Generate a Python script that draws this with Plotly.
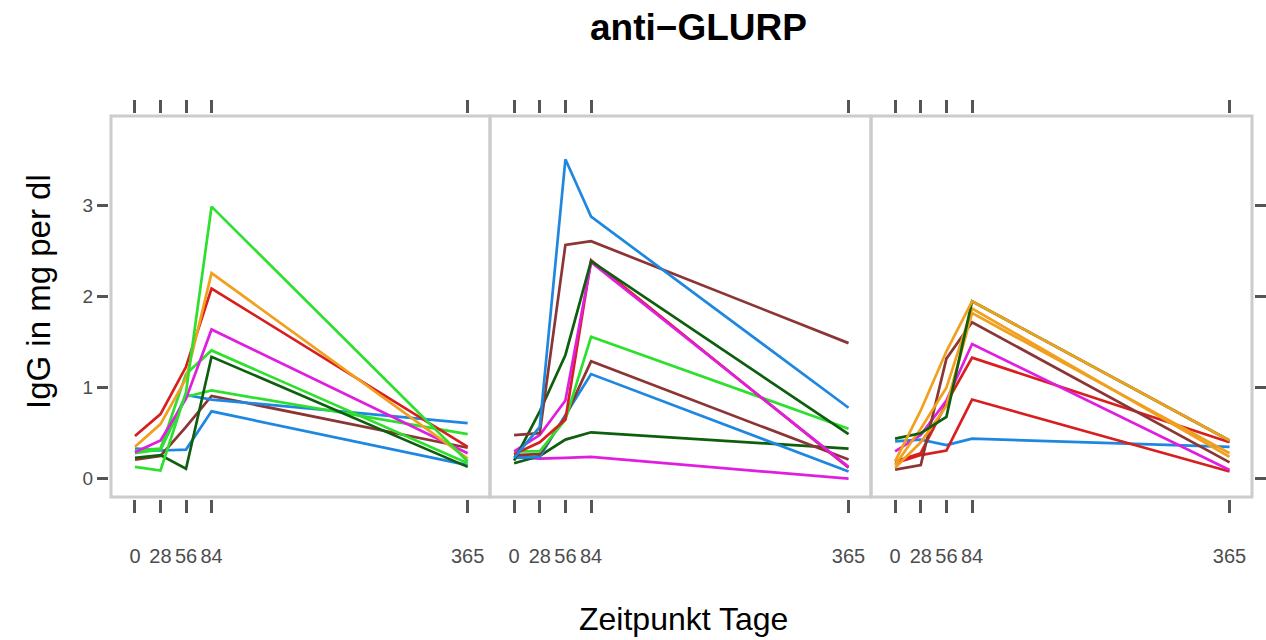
import plotly.graph_objects as go

days = [0, 28, 56, 84, 365]
tick_labels = ["0", "28", "56", "84", "365"]
y_ticks = [0, 1, 2, 3]

# panel 1 series (IgG at days 0, 28, 56, 84, 365)
p1_green_a = [0.13, 0.09, 0.95, 2.99, 0.19]
p1_orange = [0.35, 0.60, 1.10, 2.26, 0.22]
p1_red = [0.47, 0.71, 1.23, 2.09, 0.35]
p1_magenta = [0.29, 0.42, 0.88, 1.64, 0.28]
p1_green_b = [0.31, 0.33, 1.15, 1.41, 0.17]
p1_darkgreen = [0.23, 0.26, 0.11, 1.34, 0.13]
p1_green_c = [0.28, 0.32, 0.90, 0.97, 0.49]
p1_blue_a = [0.33, 0.32, 0.92, 0.87, 0.61]
p1_brown = [0.21, 0.25, 0.57, 0.91, 0.34]
p1_blue_b = [0.31, 0.31, 0.32, 0.74, 0.15]

# panel 2 series
p2_blue_a = [0.23, 0.57, 3.51, 2.88, 0.78]
p2_brown_a = [0.48, 0.50, 2.57, 2.61, 1.49]
p2_darkgreen_a = [0.20, 0.74, 1.36, 2.39, 0.49]
p2_red = [0.27, 0.40, 0.65, 2.40, 0.12]
p2_magenta_a = [0.30, 0.48, 0.86, 2.38, 0.13]
p2_green = [0.30, 0.30, 0.65, 1.56, 0.55]
p2_brown_b = [0.26, 0.27, 0.68, 1.29, 0.21]
p2_blue_b = [0.23, 0.24, 0.70, 1.15, 0.08]
p2_darkgreen_b = [0.17, 0.25, 0.43, 0.51, 0.33]
p2_magenta_b = [0.24, 0.22, 0.23, 0.24, 0.00]

# panel 3 series
p3_blue = [0.41, 0.43, 0.37, 0.44, 0.35]
p3_darkgreen = [0.44, 0.50, 0.68, 1.95, 0.42]
p3_orange_a = [0.19, 0.75, 1.40, 1.95, 0.42]
p3_orange_b = [0.15, 0.55, 1.00, 1.87, 0.24]
p3_orange_c = [0.12, 0.40, 0.80, 1.82, 0.28]
p3_brown = [0.10, 0.15, 1.32, 1.72, 0.18]
p3_magenta = [0.30, 0.48, 0.86, 1.48, 0.095]
p3_red_a = [0.19, 0.28, 0.83, 1.33, 0.40]
p3_red_b = [0.17, 0.26, 0.31, 0.87, 0.08]

BLUE = "#1e88e0"
RED = "#d81e1e"
GREEN = "#2ee02e"
DGREEN = "#0e5e0e"
MAGENTA = "#e01ee0"
ORANGE = "#f0a01e"
BROWN = "#8b3535"

panels = [
    [(p1_blue_b, BLUE), (p1_brown, BROWN), (p1_blue_a, BLUE), (p1_green_c, GREEN),
     (p1_darkgreen, DGREEN), (p1_green_b, GREEN), (p1_magenta, MAGENTA),
     (p1_red, RED), (p1_orange, ORANGE), (p1_green_a, GREEN)],
    [(p2_magenta_b, MAGENTA), (p2_darkgreen_b, DGREEN), (p2_blue_b, BLUE),
     (p2_brown_b, BROWN), (p2_green, GREEN), (p2_red, RED), (p2_magenta_a, MAGENTA),
     (p2_darkgreen_a, DGREEN), (p2_brown_a, BROWN), (p2_blue_a, BLUE)],
    [(p3_blue, BLUE), (p3_red_b, RED), (p3_red_a, RED), (p3_magenta, MAGENTA),
     (p3_brown, BROWN), (p3_orange_c, ORANGE), (p3_orange_b, ORANGE),
     (p3_darkgreen, DGREEN), (p3_orange_a, ORANGE)],
]

fig = go.Figure()
for i, series in enumerate(panels):
    xa = "x" if i == 0 else f"x{i+1}"
    ya = "y" if i == 0 else f"y{i+1}"
    for vals, col in series:
        fig.add_trace(go.Scatter(x=days, y=vals, mode="lines", xaxis=xa, yaxis=ya,
                                 line=dict(color=col, width=2.7), showlegend=False,
                                 hoverinfo="skip"))

W, H = 1266, 640
edges = [111, 490, 871, 1252]
top, bottom = 116, 497
ml, mr, mt, mb = edges[0], W - edges[3], top, H - bottom
pw = W - ml - mr
ph = H - mt - mb
doms = [[(edges[k] - ml) / pw, (edges[k + 1] - ml) / pw] for k in range(3)]


def px_x(X):
    return (X - ml) / pw


def px_y(Y):
    return (H - mb - Y) / ph


TICKC = "#555555"
LABC = "#4d4d4d"
FONT = "Liberation Sans, Arial, sans-serif"

xr = [-26.3, 389.5]
yr = [-0.201, 3.986]

layout = dict(
    width=W, height=H,
    margin=dict(l=ml, r=mr, t=mt, b=mb, pad=0, autoexpand=False),
    paper_bgcolor="white", plot_bgcolor="white",
    font=dict(family=FONT, color=LABC),
)
for i in range(3):
    sfx = "" if i == 0 else str(i + 1)
    layout["xaxis" + sfx] = dict(
        domain=doms[i], range=xr, tickmode="array", tickvals=days, ticktext=tick_labels,
        ticks="outside", ticklen=13, tickwidth=2.5, tickcolor=TICKC, mirror="ticks",
        showline=True, linecolor="rgba(0,0,0,0)", linewidth=3,
        showgrid=False, zeroline=False, ticklabelstandoff=26,
        tickfont=dict(size=20, color=LABC, family=FONT), anchor="y" + sfx,
        fixedrange=True,
    )
    ydict = dict(
        domain=[0, 1], range=yr, tickmode="array", tickvals=y_ticks,
        showgrid=False, zeroline=False, anchor="x" + sfx, fixedrange=True,
        tickfont=dict(size=19, color=LABC, family=FONT),
        showline=True, linecolor="rgba(0,0,0,0)", linewidth=3,
    )
    if i == 0:
        ydict.update(ticks="outside", ticklen=11, tickwidth=2.5, tickcolor=TICKC,
                     side="left", ticklabelstandoff=0)
    elif i == 1:
        ydict.update(ticks="", showticklabels=False)
    else:
        ydict.update(ticks="outside", ticklen=12, tickwidth=2.5, tickcolor=TICKC,
                     side="right", showticklabels=False)
    layout["yaxis" + sfx] = ydict

fig.update_layout(**layout)

for i in range(3):
    sfx = "" if i == 0 else str(i + 1)
    fig.add_shape(type="rect", xref=f"x{sfx} domain", yref=f"y{sfx} domain",
                  x0=0, x1=1, y0=0, y1=1, line=dict(color="#cccccc", width=3),
                  layer="above")

fig.add_annotation(text="<b>anti−GLURP</b>", xref="paper", yref="paper",
                   x=px_x(698), y=px_y(27),
                   xanchor="center", yanchor="middle", showarrow=False,
                   font=dict(size=37, color="#000000", family=FONT))
fig.add_annotation(text="Zeitpunkt Tage", xref="paper", yref="paper",
                   x=px_x(683), y=px_y(619),
                   xanchor="center", yanchor="middle", showarrow=False,
                   font=dict(size=32, color="#000000", family=FONT))
fig.add_annotation(text="IgG in mg per dl", xref="paper", yref="paper",
                   x=px_x(38), y=px_y(292),
                   xanchor="center", yanchor="middle", showarrow=False, textangle=-90,
                   font=dict(size=33, color="#000000", family=FONT))

fig.write_html(
    "out.html",
    config={"displayModeBar": False},
    post_script="document.body.style.margin='0';"
                "document.documentElement.style.overflow='hidden';",
)
